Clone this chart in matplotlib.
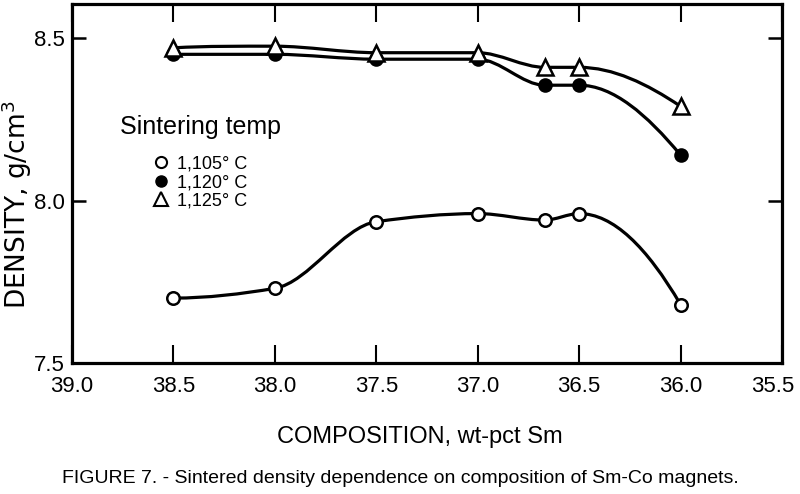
import numpy as np
import matplotlib.pyplot as plt
import matplotlib.transforms as mtransforms
from matplotlib.path import Path
from matplotlib.patches import PathPatch
from matplotlib.lines import Line2D

# data (composition in wt-pct Sm, density in g/cm3)
comp = [38.5, 38.0, 37.5, 37.0, 36.67, 36.5, 36.0]
dens_1105 = [7.70, 7.73, 7.935, 7.96, 7.94, 7.96, 7.68]
dens_1120 = [8.45, 8.45, 8.435, 8.435, 8.355, 8.355, 8.14]
dens_1125 = [8.47, 8.475, 8.455, 8.455, 8.41, 8.41, 8.29]
labels = ["1,105° C", "1,120° C", "1,125° C"]
xticks = [39.0, 38.5, 38.0, 37.5, 37.0, 36.5, 36.0, 35.5]
yticks = [7.5, 8.0, 8.5]

FONT = "Liberation Sans"


def smooth_path(xs, ys):
    # monotone cubic (pchip-like) curve through the points, drawn as Bezier segments
    x = np.asarray(xs, float)
    y = np.asarray(ys, float)
    h = np.diff(x)
    d = np.diff(y) / h
    n = len(x)
    m = np.zeros(n)
    for k in range(1, n - 1):
        if d[k - 1] * d[k] > 0:
            w1 = 2 * h[k] + h[k - 1]
            w2 = h[k] + 2 * h[k - 1]
            m[k] = (w1 + w2) / (w1 / d[k - 1] + w2 / d[k])
    m[0] = ((2 * h[0] + h[1]) * d[0] - h[0] * d[1]) / (h[0] + h[1])
    if m[0] * d[0] <= 0:
        m[0] = 0
    m[-1] = ((2 * h[-1] + h[-2]) * d[-1] - h[-1] * d[-2]) / (h[-1] + h[-2])
    if m[-1] * d[-1] <= 0:
        m[-1] = 0
    verts = [(x[0], y[0])]
    codes = [Path.MOVETO]
    for i in range(n - 1):
        t = h[i] / 3
        verts += [(x[i] + t, y[i] + m[i] * t), (x[i + 1] - t, y[i + 1] - m[i + 1] * t), (x[i + 1], y[i + 1])]
        codes += [Path.CURVE4] * 3
    return Path(verts, codes)


fig = plt.figure(figsize=(8, 4.94), dpi=100)
ax = fig.add_axes([0.09, 0.265, 0.8875, 0.727])

for dd in (dens_1105, dens_1120, dens_1125):
    ax.add_patch(PathPatch(smooth_path(comp, dd), fc="none", ec="black", lw=2.3, zorder=2))

ax.plot(comp, dens_1105, "o", ms=9, mfc="white", mec="black", mew=1.8, ls="none", zorder=3)
ax.plot(comp, dens_1120, "o", ms=9, mfc="black", mec="black", mew=1.5, ls="none", zorder=3)
ax.plot(comp, dens_1125, "^", ms=11, mfc="white", mec="black", mew=1.8, ls="none", zorder=4)

ax.set_xlim(39.0, 35.5)
ax.set_ylim(7.5, 8.605)
ax.set_xticks(xticks)
ax.set_xticklabels([f"{v:.1f}" for v in xticks], fontfamily=FONT, fontsize=16)
ax.set_yticks(yticks)
ax.set_yticklabels([f"{v:.1f}" for v in yticks], fontfamily=FONT, fontsize=16)
ax.tick_params(axis="x", direction="in", top=True, length=13, width=1.5, pad=9)
ax.tick_params(axis="y", direction="in", right=True, length=10, width=1.8, pad=5)
for s in ax.spines.values():
    s.set_linewidth(2.3)

# last x label sits a little left of the right spine, as in the original
lab = ax.get_xticklabels()[-1]
lab.set_transform(lab.get_transform() + mtransforms.ScaledTranslation(-7 / 72, 0, fig.dpi_scale_trans))

fig.text(0.021, 0.585, "DENSITY, g/cm$^3$", rotation=90, ha="center", va="center",
         fontsize=19, fontfamily="DejaVu Sans")
fig.text(0.525, 0.115, "COMPOSITION, wt-pct Sm", ha="center", va="center",
         fontsize=17, fontfamily=FONT)
fig.text(0.5, 0.032, "FIGURE 7. - Sintered density dependence on composition of Sm-Co magnets.",
         ha="center", va="center", fontsize=14, fontfamily=FONT)

handles = [
    Line2D([], [], marker="o", ls="none", ms=8, mfc="white", mec="black", mew=1.5),
    Line2D([], [], marker="o", ls="none", ms=8, mfc="black", mec="black"),
    Line2D([], [], marker="^", ls="none", ms=10, mfc="white", mec="black", mew=1.5),
]
leg = ax.legend(handles, labels, title="Sintering temp", loc="upper left",
                bbox_to_anchor=(0.05, 0.726), frameon=False,
                prop={"family": FONT, "size": 13},
                title_fontproperties={"family": FONT, "size": 18},
                handlelength=0.8, handletextpad=0.5, labelspacing=0.08, borderpad=0.2)
leg._legend_box.sep = 12

fig.savefig("out.png", dpi=100)
